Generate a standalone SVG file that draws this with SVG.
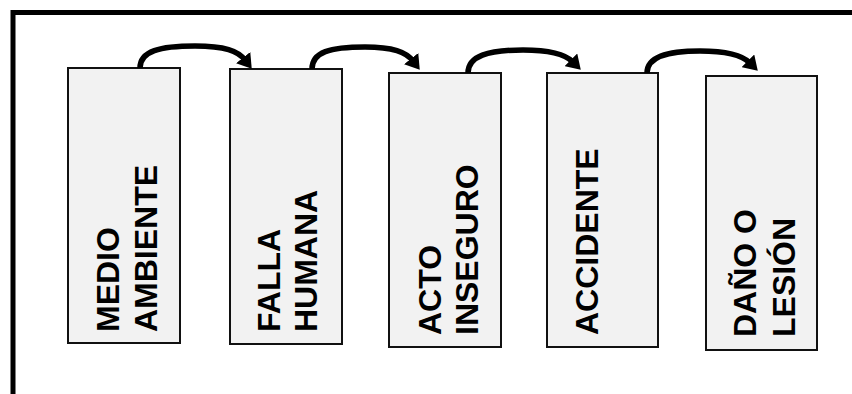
<svg xmlns="http://www.w3.org/2000/svg" width="852" height="394" viewBox="0 0 852 394">
  <style>
    .frame { fill: none; stroke: #000; stroke-width: 5; }
    .box { fill: #f2f2f2; stroke: #111; stroke-width: 2; }
    .label { font-family: "Liberation Sans", Arial, sans-serif; font-weight: bold; font-size: 32px; fill: #000; }
    .link { fill: none; stroke: #000; stroke-width: 5.5; marker-end: url(#head); }
  </style>
  <defs>
    <marker id="head" markerUnits="userSpaceOnUse" viewBox="0 0 14 18" markerWidth="14" markerHeight="18" refX="3" refY="9" orient="auto">
      <path d="M0,0 L14,9 L0,18 z" fill="#000"/>
    </marker>
  </defs>

  <rect width="852" height="394" fill="#fff"/>
  <!-- outer frame, open to the right and bottom -->
  <path class="frame" d="M13,394 V12.5 H852"/>

  <g id="medio-ambiente">
    <rect class="box" x="68" y="68" width="112" height="275"/>
    <text class="label" transform="translate(119,332) rotate(-90)"><tspan x="0" y="0">MEDIO</tspan><tspan x="0" y="38">AMBIENTE</tspan></text>
  </g>
  <g id="falla-humana">
    <rect class="box" x="230" y="69" width="112" height="275"/>
    <text class="label" transform="translate(280,332) rotate(-90)"><tspan x="0" y="0">FALLA</tspan><tspan x="0" y="37">HUMANA</tspan></text>
  </g>
  <g id="acto-inseguro">
    <rect class="box" x="389" y="73" width="112" height="274"/>
    <text class="label" transform="translate(441,335) rotate(-90)"><tspan x="0" y="0">ACTO</tspan><tspan x="0" y="37">INSEGURO</tspan></text>
  </g>
  <g id="accidente">
    <rect class="box" x="547" y="73" width="111" height="274"/>
    <text class="label" transform="translate(598,335) rotate(-90)">ACCIDENTE</text>
  </g>
  <g id="dano-lesion">
    <rect class="box" x="706" y="76" width="111" height="274"/>
    <text class="label" transform="translate(756,337) rotate(-90)"><tspan x="0" y="0">DAÑO O</tspan><tspan x="0" y="39">LESIÓN</tspan></text>
  </g>

  <g id="connectors">
    <path class="link" d="M140,68 C140,51 160,46 195,46 C225,46 238,51 245,60"/>
    <path class="link" d="M312,69 C312,52 330,47 365,47 C393,47 406,52 413,61"/>
    <path class="link" d="M468,73 C468,56 488,50 523,50 C553,50 566,55 573,62"/>
    <path class="link" d="M647,73 C647,57 666,51 700,51 C730,51 743,56 750,63"/>
  </g>
</svg>
